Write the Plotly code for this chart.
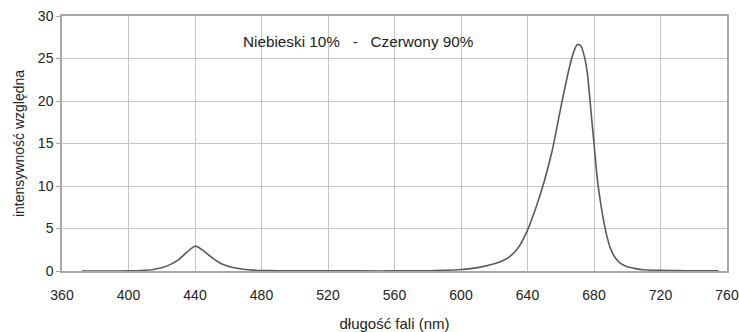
import plotly.graph_objects as go

wavelength = [372, 380, 390, 400, 405, 410, 415, 420, 425, 430, 435, 438, 440, 442, 445, 450, 455, 460, 465, 470,
              475, 480, 490, 500, 520, 540, 560, 580, 590, 600, 610, 620, 625, 630, 635, 640, 645, 650, 655, 660,
              665, 668, 670, 672, 674, 676, 678, 680, 682, 684, 686, 688, 690, 693, 696, 700, 705, 710, 720, 730,
              740, 750, 755]
intensity = [0.0, 0.0, 0.0, 0.01, 0.03, 0.08, 0.18, 0.38, 0.75, 1.3, 2.2, 2.7, 2.92, 2.8, 2.4, 1.6, 0.95, 0.55, 0.32, 0.18,
             0.1, 0.06, 0.03, 0.02, 0.01, 0.01, 0.01, 0.03, 0.08, 0.18, 0.4, 0.85, 1.2, 1.8, 2.9, 4.8, 7.4, 10.5, 14.3, 19.2,
             23.8, 25.9, 26.65, 26.5, 25.4, 23.3, 19.2, 15.0, 10.8, 8.0, 5.7, 3.9, 2.6, 1.5, 0.9, 0.5, 0.28, 0.15, 0.07, 0.04,
             0.03, 0.02, 0.02]

x_ticks = [360, 400, 440, 480, 520, 560, 600, 640, 680, 720, 760]
y_ticks = [0, 5, 10, 15, 20, 25, 30]
title_text = "Niebieski 10%   -   Czerwony 90%"
x_title = "długość fali (nm)"
y_title = "intensywność względna"

FONT = "Liberation Sans, Arial, sans-serif"

fig = go.Figure()
fig.add_trace(go.Scatter(x=wavelength, y=intensity, mode="lines",
                         line=dict(color="#5a5a5a", width=1.6, shape="spline", smoothing=0.6),
                         showlegend=False, hoverinfo="skip"))

fig.add_annotation(x=538.5, y=27.0, xref="x", yref="y", text=title_text, showarrow=False,
                   font=dict(family=FONT, size=15.3, color="#222222"))

axis_font = dict(family=FONT, size=14, color="#222222")
fig.update_layout(
    width=739, height=332,
    margin=dict(l=62, r=12, t=16, b=61, autoexpand=False),
    paper_bgcolor="white", plot_bgcolor="white",
    font=dict(family=FONT, size=14, color="#222222"),
    xaxis=dict(range=[360, 760], tickvals=x_ticks, showgrid=True, gridcolor="#c4c4c4", gridwidth=1,
               showline=True, linecolor="#a8a8a8", linewidth=1.5, mirror=True, zeroline=False,
               ticks="", tickfont=axis_font, ticklabelstandoff=10, automargin=False,
               title=dict(text=x_title, font=dict(size=15, family=FONT), standoff=19)),
    yaxis=dict(range=[0, 30], tickvals=y_ticks, showgrid=True, gridcolor="#c4c4c4", gridwidth=1,
               showline=True, linecolor="#a8a8a8", linewidth=1.5, mirror=True, zeroline=False,
               ticks="outside", ticklen=4, tickcolor="#a8a8a8", tickfont=axis_font, automargin=False,
               title=dict(text=y_title, font=dict(size=14, family=FONT), standoff=10)),
)

fig.write_html("out.html", config={"displayModeBar": False},
               post_script="document.body.style.margin='0';document.body.style.overflow='hidden';")
